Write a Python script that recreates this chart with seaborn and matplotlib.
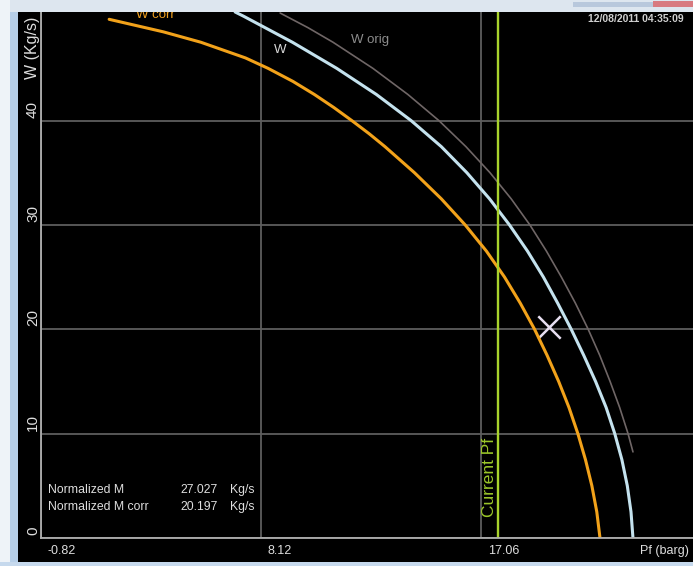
import matplotlib
matplotlib.use("Agg")
import matplotlib.pyplot as plt
import matplotlib.transforms as mtransforms
from matplotlib.patches import Rectangle
import pandas as pd
import seaborn as sns

# Flow W (Kg/s) against pressure Pf (barg)
w_corr = [0.0, 2.5, 5.0, 7.5, 10.0, 12.5, 15.0, 17.5, 20.0, 22.5, 25.0, 27.5,
          30.0, 32.5, 35.0, 37.5, 38.75, 40.0, 41.25, 42.5, 43.75, 45.0, 46.0,
          47.5, 48.5, 49.7]
pf_w_corr = [21.90, 21.77, 21.57, 21.31, 21.00, 20.64, 20.22, 19.75, 19.24,
             18.66, 18.02, 17.28, 16.42, 15.45, 14.36, 13.16, 12.51, 11.81,
             11.08, 10.29, 9.42, 8.41, 7.49, 5.68, 4.15, 1.95]

w = [0.0, 2.5, 5.0, 7.5, 10.0, 12.5, 15.0, 17.5, 20.0, 22.5, 25.0, 27.5, 30.0,
     32.5, 35.0, 37.5, 40.0, 42.5, 45.0, 47.5, 50.0, 50.4]
pf_w = [23.24, 23.16, 23.01, 22.79, 22.50, 22.15, 21.72, 21.24, 20.73, 20.18,
        19.60, 18.95, 18.22, 17.41, 16.49, 15.45, 14.22, 12.81, 11.20, 9.40,
        7.41, 7.07]

w_orig = [8.25, 10.0, 12.5, 15.0, 17.5, 20.0, 22.5, 25.0, 27.5, 30.0, 32.5,
          35.0, 37.5, 40.0, 42.5, 45.0, 47.5, 48.9, 50.3]
pf_w_orig = [23.24, 23.04, 22.70, 22.31, 21.89, 21.42, 20.90, 20.33, 19.72,
             19.05, 18.29, 17.43, 16.45, 15.35, 14.09, 12.67, 11.05, 10.03, 8.90]

current_pf = 17.74
op_pf = [19.83]
op_w = [20.2]

x_ticks = [-0.82, 8.12, 17.06]
x_tick_labels = ["-0.82", "8.12", "17.06"]
y_ticks = [0, 10, 20, 30, 40]
y_tick_labels = ["0", "10", "20", "30", "40"]

summary_names = ["Normalized M", "Normalized M corr"]
summary_values = ["27.027", "20.197"]
summary_units = ["Kg/s", "Kg/s"]
timestamp = "12/08/2011 04:35:09"

# ---------------------------------------------------------------------------
W_PX, H_PX = 693, 566
sns.set_style("dark")
plt.rcParams["font.family"] = ["Liberation Sans", "DejaVu Sans"]

fig = plt.figure(figsize=(W_PX / 100, H_PX / 100), dpi=100, facecolor="#000000")


def fx(px):
    return px / W_PX


def fy(py):
    return 1 - py / H_PX


ax = fig.add_axes([fx(41), fy(538), (W_PX - 41) / W_PX, (538 - 12) / H_PX])
ax.set_facecolor("#000000")
ax.set_xlim(-0.82, 25.68)
ax.set_ylim(0, 50.4)

GRID = "#5e5e5e"
AXIS = "#b0b0b0"
TXT = "#dedede"

ax.set_xticks(x_ticks)
ax.set_yticks(y_ticks)
ax.grid(True, color=GRID, linewidth=1.3)
ax.tick_params(axis="both", labelbottom=False, labelleft=False, direction="out",
               color=AXIS, width=1.0)
ax.tick_params(axis="x", length=7)
ax.tick_params(axis="y", length=5)
for side in ("top", "right"):
    ax.spines[side].set_visible(False)
for side in ("left", "bottom"):
    ax.spines[side].set_color(AXIS)
    ax.spines[side].set_linewidth(1.3)

# curves
orig_df = pd.DataFrame({"Pf": pf_w_orig, "W": w_orig})
w_df = pd.DataFrame({"Pf": pf_w, "W": w})
corr_df = pd.DataFrame({"Pf": pf_w_corr, "W": w_corr})

line_kw = dict(ax=ax, sort=False, estimator=None, solid_joinstyle="round",
               solid_capstyle="round")
sns.lineplot(data=orig_df, x="Pf", y="W", color="#6f6666", linewidth=1.2, **line_kw)
sns.lineplot(data=w_df, x="Pf", y="W", color="#c4e2ee", linewidth=2.2, **line_kw)
sns.lineplot(data=corr_df, x="Pf", y="W", color="#f2a21a", linewidth=2.2, **line_kw)
ax.axvline(current_pf, color="#a8d22c", linewidth=1.7)
sns.scatterplot(x=op_pf, y=op_w, ax=ax, marker="x", s=260, color="#e6def0",
                linewidth=1.8)
ax.set_xlabel("")
ax.set_ylabel("")

# tick labels
ytrans = mtransforms.offset_copy(
    mtransforms.blended_transform_factory(fig.transFigure, ax.transData),
    fig=fig, y=3, units="dots")
for val, lab in zip(y_ticks, y_tick_labels):
    fig.text(fx(33), val, lab, transform=ytrans, rotation=90, ha="center",
             va="bottom", color=TXT, fontsize=11)

xtrans = mtransforms.offset_copy(
    mtransforms.blended_transform_factory(ax.transData, fig.transFigure),
    fig=fig, x=7, units="dots")
for val, lab in zip(x_ticks, x_tick_labels):
    fig.text(val, fy(551), lab, transform=xtrans, ha="left", va="center",
             color=TXT, fontsize=9)

fig.text(fx(640), fy(551), "Pf (barg)", ha="left", va="center", color=TXT,
         fontsize=9)
fig.text(fx(33), fy(17), "W (Kg/s)", rotation=90, ha="center", va="top",
         color=TXT, fontsize=11.5)

# curve names
fig.text(fx(136), fy(15), "W corr", ha="left", va="center", color="#f0a020",
         fontsize=9.5)
fig.text(fx(274), fy(50), "W", ha="left", va="center", color="#d8d8d8",
         fontsize=9.5)
fig.text(fx(351), fy(40), "W orig", ha="left", va="center", color="#8c8c8c",
         fontsize=9.5)
fig.text(fx(489), fy(517), "Current Pf", rotation=90, ha="center", va="bottom",
         color="#9cc82a", fontsize=12.5)

# summary values
for i, (name, val, unit) in enumerate(zip(summary_names, summary_values, summary_units)):
    ypix = 490 + 17 * i
    fig.text(fx(48), fy(ypix), name, ha="left", va="center", color=TXT, fontsize=8.8)
    fig.text(fx(180), fy(ypix), val, ha="left", va="center", color=TXT, fontsize=8.8)
    fig.text(fx(230), fy(ypix), unit, ha="left", va="center", color=TXT, fontsize=8.8)

fig.text(fx(588), fy(19), timestamp, ha="left", va="center", color="#cfcfcf",
         fontsize=7.5, fontweight="bold")

# window frame around the plot panel
frame = [
    ((0, 0), 693, 12, "#dde6ef"),
    ((573, 2), 80, 5, "#b8c8dc"),
    ((653, 1), 40, 6, "#d87a80"),
    ((0, 0), 10, 566, "#eef3f8"),
    ((10, 12), 8, 554, "#b7cfe8"),
    ((0, 562), 693, 4, "#c6d9ed"),
]
for (x0, y0), wpx, hpx, col in frame:
    fig.add_artist(Rectangle((fx(x0), fy(y0 + hpx)), wpx / W_PX, hpx / H_PX,
                             transform=fig.transFigure, facecolor=col,
                             edgecolor="none", zorder=20))

fig.savefig("out.png", dpi=100, facecolor=fig.get_facecolor())
